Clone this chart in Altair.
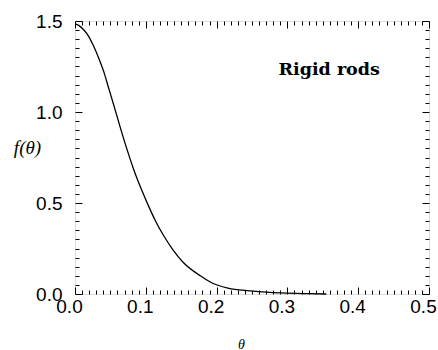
import altair as alt
import pandas as pd

# curve
theta = [0.0, 0.0052, 0.0122, 0.0193, 0.0264, 0.0334, 0.0405, 0.0475, 0.0546,
         0.0636, 0.073, 0.0824, 0.0942, 0.106, 0.113, 0.1247, 0.1389, 0.153,
         0.177, 0.191, 0.216, 0.247, 0.275, 0.30, 0.33, 0.355]
f_theta = [1.484, 1.476, 1.452, 1.416, 1.361, 1.297, 1.223, 1.132, 1.040,
           0.92, 0.80, 0.69, 0.571, 0.465, 0.407, 0.324, 0.24, 0.173,
           0.10, 0.066, 0.032, 0.017, 0.009, 0.005, 0.002, 0.0]

x_ticks = [round(i * 0.01, 2) for i in range(51)]
y_ticks = [round(i * 0.05, 2) for i in range(31)]

label_text = ["Rigid rods"]
label_x = [0.359]
label_y = [1.23]

df = pd.DataFrame({"theta": theta, "f": f_theta})
lab = pd.DataFrame({"t": label_text, "x": label_x, "y": label_y})

x_major = "abs(datum.value*10 - round(datum.value*10)) < 1e-6"
y_major = "abs(datum.value*2 - round(datum.value*2)) < 1e-6"

xscale = alt.Scale(domain=[0, 0.5], nice=False, zero=False)
yscale = alt.Scale(domain=[0, 1.5], nice=False, zero=False)

common = dict(domain=False, grid=False, tickColor="black", tickWidth=1,
              labelFont="Liberation Sans", labelFontSize=19, labelColor="black",
              labelOverlap=False)

x_bottom = alt.Axis(values=x_ticks, orient="bottom",
                    tickSize=alt.ExprRef(expr=f"{x_major} ? -7 : -4"),
                    labelExpr=f"{x_major} ? format(datum.value, '.1f') : ''",
                    labelPadding=10, labelOffset=-6, labelFlush=False,
                    title="θ", titleFont="Liberation Serif", titleFontStyle="italic",
                    titleFontWeight="normal", titleFontSize=14, titleColor="black",
                    titleX=166, titleY=50, titleAlign="center", titleBaseline="middle",
                    **common)
y_left = alt.Axis(values=y_ticks, orient="left",
                  tickSize=alt.ExprRef(expr=f"{y_major} ? -7 : -4"),
                  labelExpr=f"{y_major} ? format(datum.value, '.1f') : ''",
                  labelPadding=20, labelFlush=False,
                  title="f(θ)", titleFont="Liberation Serif", titleFontStyle="italic",
                  titleFontWeight="normal", titleFontSize=19, titleColor="black",
                  titleAngle=0, titleX=-48, titleY=126, titleAlign="center",
                  titleBaseline="middle",
                  **common)
x_top = alt.Axis(values=x_ticks, orient="top", labels=False, title=None,
                 tickSize=alt.ExprRef(expr=f"{x_major} ? -7 : -4"), **common)
y_right = alt.Axis(values=y_ticks, orient="right", labels=False, title=None,
                   tickSize=alt.ExprRef(expr=f"{y_major} ? -7 : -4"), **common)

line = alt.Chart(df).mark_line(color="black", strokeWidth=1.3, interpolate="monotone").encode(
    x=alt.X("theta:Q", scale=xscale, axis=x_bottom),
    y=alt.Y("f:Q", scale=yscale, axis=y_left),
)

frame = alt.Chart(df).mark_line(opacity=0).encode(
    x=alt.X("theta:Q", scale=xscale, axis=x_top),
    y=alt.Y("f:Q", scale=yscale, axis=y_right),
)

text = alt.Chart(lab).mark_text(font="DejaVu Serif", fontWeight="bold", fontSize=17.5,
                                color="black", align="center", baseline="middle").encode(
    x=alt.X("x:Q", scale=xscale, axis=None),
    y=alt.Y("y:Q", scale=yscale, axis=None),
    text="t:N",
)

chart = alt.layer(line, frame, text).resolve_axis(x="independent", y="independent").properties(
    width=354, height=273,
    padding={"left": 75, "top": 21, "right": 9, "bottom": 56},
    autosize=alt.AutoSizeParams(type="none"),
).configure_view(stroke="black", strokeWidth=1.2).configure(background="white")

chart.save("out.html", embed_options={"renderer": "svg", "actions": False})
